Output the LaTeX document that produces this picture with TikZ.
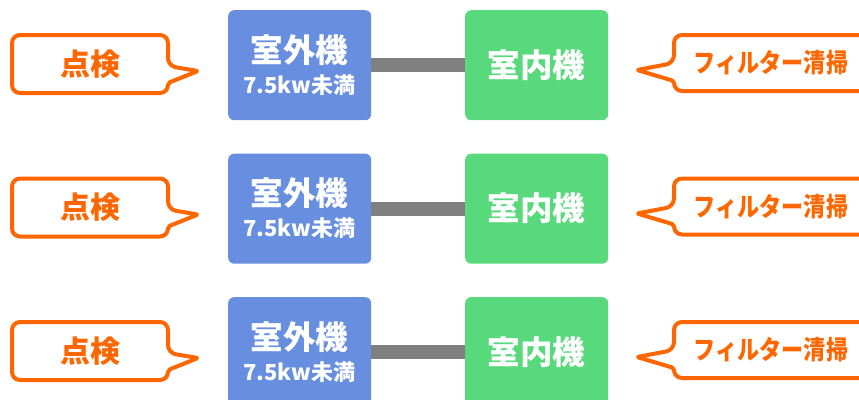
\documentclass[tikz,border=0pt]{standalone}
\usepackage{fontspec}
\setmainfont{Noto Sans CJK JP}
\definecolor{outblue}{RGB}{104,142,224}
\definecolor{ingreen}{RGB}{88,217,123}
\definecolor{pipegray}{RGB}{128,128,128}
\definecolor{callorange}{RGB}{255,102,0}
\tikzset{
  unitbox/.style={rounded corners=6pt, minimum width=143pt, minimum height=110pt, inner sep=0pt, anchor=north west},
  outbox/.style={unitbox, fill=outblue},
  inbox/.style={unitbox, fill=ingreen},
  bigtxt/.style={text=white, font=\bfseries\fontsize{32.5}{33}\selectfont, inner sep=0pt},
  smalltxt/.style={text=white, font=\bfseries\fontsize{22}{23}\selectfont, inner sep=0pt},
  calloutline/.style={draw=callorange, line width=4pt, fill=white, line join=round},
  calltxt/.style={text=callorange, font=\bfseries\fontsize{30}{31}\selectfont, inner sep=0pt},
  filtertxt/.style={text=callorange, font=\bfseries\fontsize{26}{27}\selectfont, inner sep=0pt, xscale=0.85},
  pipe/.style={draw=pipegray, line width=14pt}
}
\begin{document}
\begin{tikzpicture}[x=1pt,y=-1pt]
\useasboundingbox (0,0) rectangle (859,399);
\foreach \r/\t in {1/10,2/153.5,3/297}{
  % units
  \node[outbox] (out\r) at (228,\t) {};
  \node[inbox] (in\r) at (465,\t) {};
  \draw[pipe] (out\r.east) -- (in\r.west);
  \node[bigtxt] (outname\r) at (299.5,\t+40) {室外機};
  \node[smalltxt] (outsub\r) at (299.5,\t+75) {7.5kw未満};
  \node[bigtxt] (inname\r) at (536.5,\t+55) {室内機};
  % left callout
  \draw[calloutline, rounded corners=8pt]
    (12,\t+25) -- (168,\t+25) -- (168,\t+56) [rounded corners=2pt] -- (198,\t+61) -- (168,\t+73) [rounded corners=8pt] -- (168,\t+83) -- (12,\t+83) -- cycle;
  \node[calltxt] (check\r) at (90,\t+54) {点検};
  % right callout
  \draw[calloutline, rounded corners=8pt]
    (880,\t+25) -- (674,\t+25) -- (674,\t+53) [rounded corners=2pt] -- (637,\t+60) -- (674,\t+71) [rounded corners=8pt] -- (674,\t+81) -- (880,\t+81) -- cycle;
  \node[filtertxt] (filter\r) at (771,\t+53) {フィルター清掃};
}
\end{tikzpicture}
\end{document}
